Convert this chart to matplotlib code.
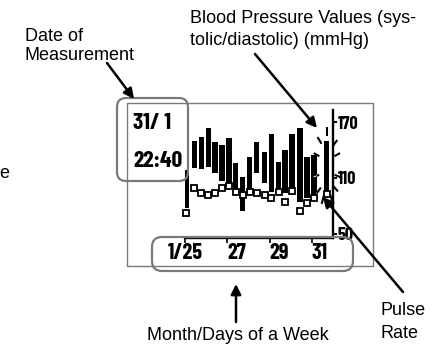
import numpy as np
import matplotlib
matplotlib.use('Agg')
from matplotlib import pyplot as plt
from matplotlib.patches import FancyBboxPatch, Rectangle

# readings: time (day of month), systolic / diastolic (mmHg), pulse
times = [25.05, 25.43, 25.76, 26.09, 26.42, 26.75, 27.08, 27.41, 27.74, 28.07,
         28.40, 28.78, 29.07, 29.44, 29.73, 30.06, 30.44, 30.77, 31.10, 31.71]
systolic = [119, 150, 154, 164, 149, 145, 153, 126, 111, 132,
            149, 138, 157, 127, 140, 157, 164, 132, 135, 150]
diastolic = [78, 121, 120, 122, 115, 107, 102, 94, 74, 97,
             115, 105, 95, 94, 94, 95, 84, 88, 90, 94]
pulse = [72, 99, 94, 92, 94, 99, 101, 95, 92, 95,
         94, 92, 89, 95, 84, 96, 74, 83, 88, 93]

day_ticks = [25, 27, 29, 31]
day_labels = ['1/25', '27', '29', '31']
bp_ticks = [50, 110, 170]
bp_labels = ['50', '110', '170']

shown_date = '31/ 1'
shown_time = '22:40'

W, H = 438, 347
LCD = ['Barlow Condensed', 'DejaVu Sans']
SANS = ['Liberation Sans', 'DejaVu Sans']
GREY = '#7a7a7a'

fig = plt.figure(figsize=(W / 100, H / 100), dpi=100)

# --- graph area of the display ---
x0, x1, ytop, ybot = 185, 333, 110, 238
ax = fig.add_axes([x0 / W, (H - ybot) / H, (x1 - x0) / W, (ybot - ytop) / H])
ax.set_zorder(1)
ax.patch.set_alpha(0)
ax.set_xlim(25, 32)
ax.set_ylim(45.5, 183)
for s in ['top', 'left']:
    ax.spines[s].set_visible(False)
for s in ['right', 'bottom']:
    ax.spines[s].set_linewidth(1.7)
ax.yaxis.tick_right()

heights = [s - d for s, d in zip(systolic, diastolic)]
bars = ax.bar(times, heights, bottom=diastolic, width=0.24, color='black')
ax.plot(times, pulse, ls='none', marker='s', ms=4.2, mfc='white',
        mec='black', mew=1.3, clip_on=False)

ax.set_xticks(day_ticks, day_labels, fontfamily=LCD, fontweight='bold', fontsize=16)
ax.set_yticks(bp_ticks, bp_labels, fontfamily=LCD, fontweight='bold', fontsize=13)
ax.tick_params(axis='x', direction='out', length=3.5, width=1.2, pad=0.3)
ax.tick_params(axis='y', direction='out', length=3.2, width=1.4, pad=0.3)
for lab in ax.get_xticklabels():
    lab.set_ha('center' if '/' in lab.get_text() else 'left')

# blinking burst around the latest reading
px_day = (x1 - x0) / (32 - 25)
px_mm = (ybot - ytop) / (183 - 45.5)
cx = times[-1]
cy = (systolic[-1] + diastolic[-1]) / 2
for ang in [90, 132, 160, 195, 222, 248, 295, 322, 345, 20, 42]:
    t = np.radians(ang)
    xs = [cx + 8 * np.cos(t) / px_day, cx + 14 * np.cos(t) / px_day]
    ys = [cy + 31 * np.sin(t) / px_mm, cy + 40 * np.sin(t) / px_mm]
    ax.plot(xs, ys, color='black', lw=1.5, solid_capstyle='butt', clip_on=False)
    inner, = ax.plot(xs, ys, color='white', lw=0.6, solid_capstyle='butt')
    inner.set_clip_path(bars.patches[-2])

# --- overlay in pixel coordinates for the callouts ---
ov = fig.add_axes([0, 0, 1, 1])
ov.set_zorder(2)
ov.set_xlim(0, W)
ov.set_ylim(H, 0)
ov.axis('off')

ov.add_patch(Rectangle((127, 103), 246, 163, fill=False, ec=GREY, lw=1.0))
ov.add_patch(FancyBboxPatch((117, 98), 71, 83, boxstyle='round,pad=0,rounding_size=9',
                            fill=False, ec=GREY, lw=1.6))
ov.add_patch(FancyBboxPatch((152, 237), 201, 34, boxstyle='round,pad=0,rounding_size=10',
                            fill=False, ec=GREY, lw=1.6))

lcd = dict(fontfamily=LCD, fontweight='bold', fontsize=17, va='baseline')
ov.text(133, 129, shown_date, **lcd)
ov.text(133, 167, shown_time, **lcd)

txt = dict(fontfamily=SANS, fontsize=13, va='baseline')
ov.text(25, 41, 'Date of', **txt)
ov.text(25, 60, 'Measurement', **txt)
ov.text(190, 23, 'Blood Pressure Values (sys-', **txt)
ov.text(190, 45, 'tolic/diastolic) (mmHg)', **txt)
ov.text(380, 315, 'Pulse', **txt)
ov.text(380, 338, 'Rate', **txt)
ov.text(238, 340, 'Month/Days of a Week', ha='center', **txt)
ov.text(-1, 178, 'e', **txt)

arrow = dict(arrowstyle='-|>', color='black', lw=1.8, mutation_scale=15,
             shrinkA=0, shrinkB=0)
ov.annotate('', xy=(134, 99), xytext=(107, 63), arrowprops=arrow)
ov.annotate('', xy=(317, 128), xytext=(255, 54), arrowprops=arrow)
ov.annotate('', xy=(323, 197), xytext=(403, 292), arrowprops=arrow)
ov.annotate('', xy=(236, 284), xytext=(236, 322), arrowprops=arrow)

fig.savefig('out.png', dpi=100)
